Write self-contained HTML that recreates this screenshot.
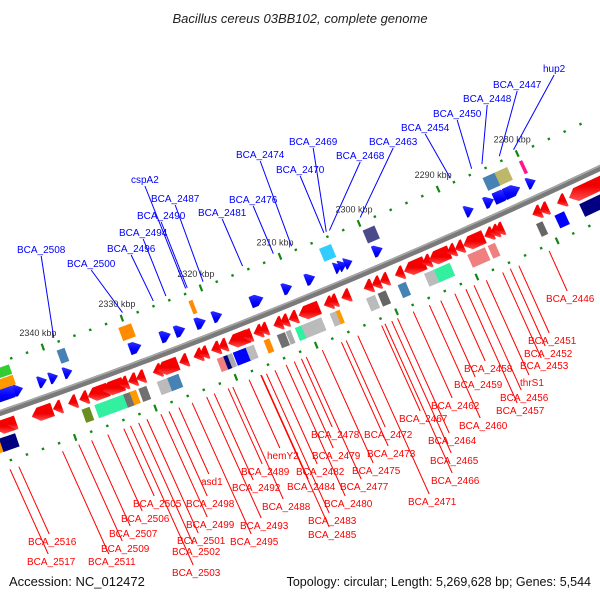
<!DOCTYPE html>
<html><head><meta charset="utf-8">
<style>
html,body{margin:0;padding:0;background:#fff;}
svg{display:block;font-family:"Liberation Sans",sans-serif;}
</style></head>
<body>
<svg id="chart" width="600" height="600" viewBox="0 0 600 600">
<defs>
<linearGradient id="gBlue" x1="0" y1="0" x2="0" y2="1"><stop offset="0" stop-color="#3030ff"/><stop offset="0.6" stop-color="#0000ff"/><stop offset="1" stop-color="#0000c8"/></linearGradient>
<linearGradient id="gRed" x1="0" y1="0" x2="0" y2="1"><stop offset="0" stop-color="#ff0000"/><stop offset="0.6" stop-color="#f00000"/><stop offset="1" stop-color="#ff5050"/></linearGradient>
</defs>
<text x="300" y="23" text-anchor="middle" font-style="italic" font-size="13" fill="#222">Bacillus cereus 03BB102, complete genome</text>
<g id="backbone"></g>
<g id="ruler"></g>
<g id="features"></g>
<g id="labels"></g>
<text x="9" y="586" font-size="13" fill="#111">Accession: NC_012472</text>
<text x="591" y="586" text-anchor="end" font-size="12.5" fill="#111">Topology: circular; Length: 5,269,628 bp; Genes: 5,544</text>
</svg>
<script>
// ---- data ----
const rulerMajorKbp = [2280, 2290, 2300, 2310, 2320, 2330, 2340];
const blueKbp = [2345.6,2344.4,2341.4,2340.0,2338.2,2329.7,2325.9,2324.1,2321.5,2319.4,2314.4,2310.6,2307.7,2304.2,2303.6,2302.9,2299.2,2287.7,2285.2,2283.6,2282.3,2279.9];
const blueLen = [2.8,1.1,1.1,1.1,1.1,1.5,1.3,1.3,1.3,1.2,1.6,1.2,1.2,1.0,1.0,1.0,1.2,1.1,1.2,2.0,2.0,1.1];
const redKbp = [2347.3,2346.5,2342.7,2340.8,2338.9,2337.5,2335.7,2333.8,2332.5,2331.4,2330.4,2328.3,2327.0,2325.0,2323.2,2322.5,2321.0,2320.1,2318.1,2317.0,2315.7,2315.0,2313.2,2312.4,2311.3,2309.3,2306.9,2306.3,2304.7,2301.9,2300.9,2299.9,2298.0,2296.1,2294.6,2293.0,2291.5,2290.5,2288.7,2286.8,2286.1,2285.5,2280.8,2279.9,2277.7,2273.0];
const redLen = [2.6,1.1,2.6,1.1,1.1,1.1,2.6,2.6,1.1,1.1,1.1,1.1,2.6,1.1,1.1,1.1,1.1,1.1,2.6,1.1,1.1,1.1,1.1,1.1,1.1,2.6,1.1,1.1,1.1,1.1,1.1,1.1,1.1,2.6,1.1,2.6,1.1,1.1,2.6,1.1,1.1,1.1,1.1,1.1,1.1,7.5];
const upCogKbp = [2345.5,2345.5,2338.1,2330.0,2321.7,2304.7,2299.2,2284.0,2282.5,2280.0];
const upCogLen = [2.0,2.0,1.0,1.6,0.5,1.5,1.5,1.6,1.6,0.4];
const upCogTrack = [-38,-27,-33,-33,-33,-33,-33,-33,-33,-33];
const upCogColor = ["#33cc33","#ff9900","#4682b4","#ff8c00","#ff8c00","#33ccff","#4b4b8b","#4682b4","#bdb76b","#ff1493"];
const lowCogKbp = [2348.5,2347.5,2337.7,2335.6,2333.7,2332.5,2331.8,2330.6,2328.1,2326.8,2320.9,2320.2,2319.7,2318.4,2317.2,2315.1,2313.3,2312.4,2311.1,2309.5,2306.7,2306.2,2302.1,2300.7,2298.2,2294.8,2293.2,2288.9,2287.0,2281.0,2278.5,2272.5];
const lowCogLen = [1.5,2.0,1.0,2.0,2.0,1.0,0.8,1.0,1.4,1.4,0.8,0.6,0.6,1.8,1.0,0.7,1.0,0.6,0.9,2.5,1.0,0.5,1.1,1.0,1.0,1.2,2.0,2.2,0.9,0.8,1.2,7.0];
const lowCogColor = ["#ff9900","#000080","#6b8e23","#33f0a0","#33f0a0","#707070","#ff9900","#707070","#bbbbbb","#4682b4","#f08080","#000080","#aaaaaa","#0000ff","#bbbbbb","#ff8c00","#707070","#aaaaaa","#33f0a0","#bbbbbb","#bbbbbb","#ff9900","#bbbbbb","#666666","#4682b4","#bbbbbb","#33f0a0","#f08080","#f08080","#666666","#0000ff","#000080"];
const blueNames = ["hup2","BCA_2447","BCA_2448","BCA_2450","BCA_2454","BCA_2463","BCA_2468","BCA_2469","BCA_2470","BCA_2474","BCA_2476","BCA_2481","cspA2","BCA_2487","BCA_2490","BCA_2494","BCA_2496","BCA_2500","BCA_2508"];
const blueLabelX = [543,493,463,433,401,369,336,289,276,236,229,198,131,151,137,119,107,67,17];
const blueLabelY = [72,88,102,117,131,145,159,145,173,158,203,216,183,202,219,236,252,267,253];
const blueLabelKbp = [2280.2,2282.0,2284.2,2285.5,2288.2,2299.6,2303.5,2303.9,2304.2,2308.3,2310.6,2314.5,2321.7,2319.5,2321.5,2324.2,2325.8,2329.7,2338.4];
const redNames = ["BCA_2446","BCA_2451","BCA_2452","BCA_2453","thrS1","BCA_2456","BCA_2457","BCA_2458","BCA_2459","BCA_2460","BCA_2462","BCA_2464","BCA_2465","BCA_2466","BCA_2467","BCA_2471","BCA_2472","BCA_2473","BCA_2475","BCA_2477","BCA_2478","BCA_2479","BCA_2480","BCA_2482","BCA_2483","BCA_2484","BCA_2485","BCA_2488","hemY2","BCA_2489","BCA_2492","BCA_2493","BCA_2495","BCA_2498","asd1","BCA_2499","BCA_2501","BCA_2502","BCA_2503","BCA_2505","BCA_2506","BCA_2507","BCA_2509","BCA_2511","BCA_2516","BCA_2517"];
const redLabelX = [546,528,524,520,520,500,496,464,454,459,431,428,430,431,399,408,364,367,352,340,311,312,324,296,308,287,308,262,267,241,232,240,230,186,201,186,177,172,172,133,121,109,101,88,28,27];
const redLabelY = [302,344,357,369,386,401,414,372,388,429,409,444,464,484,422,505,438,457,474,490,438,459,507,475,524,490,538,510,459,475,491,529,545,507,485,528,544,555,576,507,522,537,552,565,545,565];

// ---- geometry ----
function by(s){return 413-0.345*s-0.0001056*s*s;}
function P(s,d){const m=-0.345-0.0002112*s;const L=Math.hypot(m,1);return [s+d*(-m)/L, by(s)+d/L];}
function S(k){return 59+(2340-k)*7.97;}
const NS="http://www.w3.org/2000/svg";
function mk(tag,attrs,parent){const e=document.createElementNS(NS,tag);for(const k in attrs)e.setAttribute(k,attrs[k]);parent.appendChild(e);return e;}
function poly(pts){return pts.map(p=>p[0].toFixed(1)+","+p[1].toFixed(1)).join(" ");}

// backbone
const gB=document.getElementById("backbone");
let pts=[];for(let s=-30;s<=640;s+=10)pts.push(P(s,0));
const bb=mk("polyline",{points:poly(pts),fill:"none",stroke:"#7a7a7a","stroke-width":6},gB);


let pts2=[];for(let s=-30;s<=640;s+=10)pts2.push(P(s,-2));
mk("polyline",{points:poly(pts2),fill:"none",stroke:"#a8a8a8","stroke-width":1.5},gB);

// ruler
const gR=document.getElementById("ruler");
for(let k=2270;k<=2352;k+=2){
  const s=S(k); if(s<-10||s>610)continue;
  const major=(k%10===0);
  [-48,48].forEach(d=>{
    const half=major?3.5:1.2;
    const a=P(s,d-half),b=P(s,d+half);
    const t=mk("line",{x1:a[0],y1:a[1],x2:b[0],y2:b[1],stroke:"#118811","stroke-width":major?2.2:2.4},gR);
    
    
  });
}
rulerMajorKbp.forEach(k=>{
  const p=P(S(k),-48);
  const t=mk("text",{x:p[0]-5,y:p[1]-11,"text-anchor":"middle","font-size":"9",fill:"#333"},gR);
  t.textContent=k+" kbp";
  
  
});

// features
const gF=document.getElementById("features");
function arrow(k,len,d,h,dirRight,fill,name){
  let s1=S(k+len/2), s2=S(k-len/2); // s1 < s2
  const head=Math.min(7,(s2-s1));
  let p;
  if(dirRight){
    const sh=s2-head;
    p=(sh>s1+0.5)?[P(s1,d-h),P(sh,d-h),P(s2,d),P(sh,d+h),P(s1,d+h)]:[P(s1,d-h),P(s2,d),P(s1,d+h)];
  } else {
    const sh=s1+head;
    p=(sh<s2-0.5)?[P(s2,d-h),P(sh,d-h),P(s1,d),P(sh,d+h),P(s2,d+h)]:[P(s2,d-h),P(s1,d),P(s2,d+h)];
  }
  const e=mk("polygon",{points:poly(p),fill:fill},gF);
  
  
}
function box(k,len,d,h,fill,name){
  const s1=S(k+len/2),s2=S(k-len/2);
  const p=[P(s1,d-h),P(s2,d-h),P(s2,d+h),P(s1,d+h)];
  const e=mk("polygon",{points:poly(p),fill:fill},gF);
  
  
}
upCogKbp.forEach((k,i)=>box(k,upCogLen[i],upCogTrack[i],upCogTrack[i]===-33?7:5,upCogColor[i],'forward-cog-box'));
lowCogKbp.forEach((k,i)=>box(k,lowCogLen[i],31,7,lowCogColor[i],'reverse-cog-box'));
blueKbp.forEach((k,i)=>arrow(k,blueLen[i],-16,6,true,"url(#gBlue)",'forward-cds-arrow'));
redKbp.forEach((k,i)=>arrow(k,redLen[i],14,7,false,"url(#gRed)",'reverse-cds-arrow'));

// labels
const gL=document.getElementById("labels");
blueNames.forEach((n,i)=>{
  const t=mk("text",{x:blueLabelX[i],y:blueLabelY[i],"font-size":"10",fill:"#0000ff"},gL);
  t.textContent=n;
  
  
  const w=t.getComputedTextLength();
  const e=P(S(blueLabelKbp[i]),-53);
  const l=mk("line",{x1:blueLabelX[i]+w/2,y1:blueLabelY[i]+3,x2:e[0],y2:e[1],stroke:"#0000ff","stroke-width":1},gL);
  
  
});
redNames.forEach((n,i)=>{
  const t=mk("text",{x:redLabelX[i],y:redLabelY[i],"font-size":"10",fill:"#ff0000"},gL);
  t.textContent=n;
  
  
  const w=t.getComputedTextLength();
  const ex=redLabelX[i]+w/2-3, ey=redLabelY[i]-11;
  let x=ex,y=ey;
  for(let j=0;j<600;j++){ if((y-by(x))*0.93<=56)break; x-=0.41; y-=0.91; }
  const l=mk("line",{x1:x,y1:y,x2:ex,y2:ey,stroke:"#ff0000","stroke-width":1},gL);
  
  
});
</script>
</body></html>
